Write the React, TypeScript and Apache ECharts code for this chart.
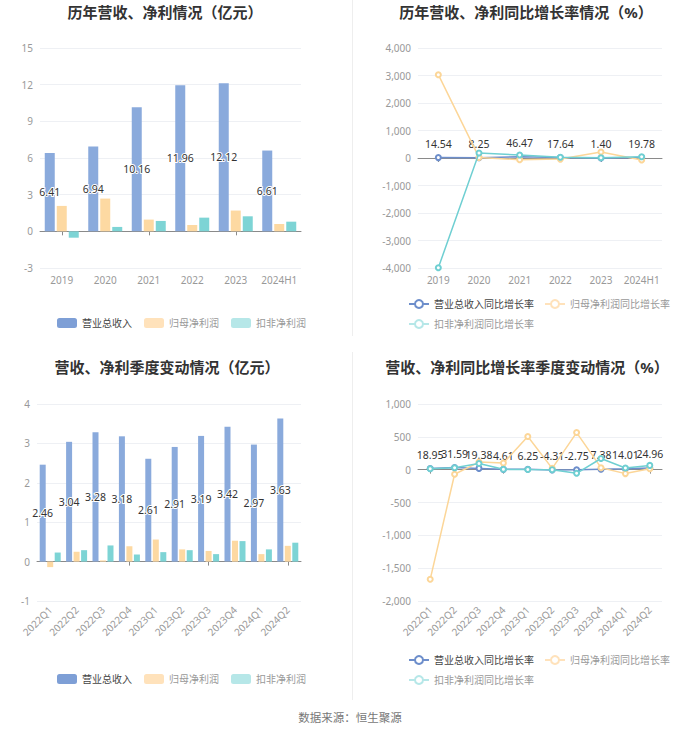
import React, { useEffect, useRef } from "react";
import * as echarts from "echarts";

const years = ["2019", "2020", "2021", "2022", "2023", "2024H1"];
const revenue = [6.41, 6.94, 10.16, 11.96, 12.12, 6.61];
const netProfit = [2.08, 2.68, 0.96, 0.52, 1.7, 0.6];
const deductedProfit = [-0.52, 0.36, 0.85, 1.12, 1.23, 0.79];

const revenueYoY = [14.54, 8.25, 46.47, 17.64, 1.4, 19.78];
const netProfitYoY = [3030, 20, -60, -40, 220, -70];
const deductedYoY = [-3990, 180, 110, 25, 8, 48];

const quarters = ["2022Q1", "2022Q2", "2022Q3", "2022Q4", "2023Q1", "2023Q2", "2023Q3", "2023Q4", "2024Q1", "2024Q2"];
const qRevenue = [2.46, 3.04, 3.28, 3.18, 2.61, 2.91, 3.19, 3.42, 2.97, 3.63];
const qNetProfit = [-0.14, 0.25, 0.03, 0.39, 0.56, 0.31, 0.27, 0.53, 0.19, 0.4];
const qDeducted = [0.23, 0.29, 0.41, 0.18, 0.24, 0.29, 0.19, 0.52, 0.31, 0.48];

const qRevenueYoY = [18.95, 31.59, 19.38, 4.61, 6.25, -4.31, -2.75, 7.38, 14.01, 24.96];
const qNetProfitYoY = [-1670, -70, 115, 100, 505, 20, 565, 30, -60, 15];
const qDeductedYoY = [15, 30, 95, 5, 2, 0, -55, 170, 25, 65];

const barNames = ["营业总收入", "归母净利润", "扣非净利润"];
const lineNames = ["营业总收入同比增长率", "归母净利润同比增长率", "扣非净利润同比增长率"];

const FONT = '"Noto Sans", "Noto Sans CJK SC", sans-serif';
const BLUE = "#8aaadc";
const ORANGE = "#fdd9a2";
const TEAL = "#7dd4d5";
const LBLUE = "#6d8ecb";
const LORANGE = "#fcd698";
const LTEAL = "#6fcfd2";

export default function App() {
  const ref = useRef<HTMLDivElement>(null);
  useEffect(() => {
    if (!ref.current) return;
    const chart = echarts.init(ref.current, null, { renderer: "svg" });

    const grids = [
      { left: 40, right: 399, top: 48, bottom: 466 },
      { left: 418, right: 38, top: 48, bottom: 466 },
      { left: 37, right: 399, top: 404, bottom: 133 },
      { left: 418, right: 38, top: 404, bottom: 133 },
    ];
    const cats = [years, years, quarters, quarters];
    const yRanges = [
      { min: -3, max: 15, interval: 3 },
      { min: -4000, max: 4000, interval: 1000 },
      { min: -1, max: 4, interval: 1 },
      { min: -2000, max: 1000, interval: 500 },
    ];

    const xAxis: any[] = [];
    const yAxis: any[] = [];
    for (let i = 0; i < 4; i++) {
      const rotated = i >= 2;
      xAxis.push({
        type: "category",
        gridIndex: i,
        data: cats[i],
        position: "bottom",
        axisLine: { show: true, onZero: true, lineStyle: { color: "#8a8a8a", width: 1 } },
        axisTick: { show: true, alignWithLabel: true, length: 4, lineStyle: { color: "#8a8a8a" } },
        axisLabel: { show: false },
        splitLine: { show: false },
      });
      xAxis.push({
        type: "category",
        gridIndex: i,
        data: cats[i],
        position: "bottom",
        axisLine: { show: false, onZero: false },
        axisTick: { show: false },
        axisLabel: {
          show: true,
          color: "#999",
          fontSize: 10,
          fontFamily: FONT,
          margin: rotated ? 7 : 7,
          rotate: rotated ? 45 : 0,
          interval: 0,
        },
        splitLine: { show: false },
      });
      yAxis.push({
        type: "value",
        gridIndex: i,
        ...yRanges[i],
        axisLine: { show: false },
        axisTick: { show: false },
        axisLabel: { color: "#999", fontSize: 10, fontFamily: FONT, margin: 7 },
        splitLine: { lineStyle: { color: "#eef0f4", width: 1 } },
      });
    }

    const barLabel = {
      show: true,
      position: "inside",
      color: "#333",
      fontSize: 10.5,
      fontFamily: FONT,
      textBorderColor: "#fff",
      textBorderWidth: 2,
      formatter: (p: any) => Number(p.value).toFixed(2),
    };
    const lineLabel = {
      show: true,
      position: "top",
      color: "#333",
      fontSize: 10.5,
      fontFamily: FONT,
      distance: 5,
      formatter: (p: any) => Number(p.value).toFixed(2),
    };

    const makeBars = (gi: number, data: number[][], bw: number, gap: string) =>
      data.map((d, k) => ({
        name: barNames[k],
        type: "bar",
        xAxisIndex: gi * 2,
        yAxisIndex: gi,
        data: d,
        barWidth: bw,
        barGap: gap,
        itemStyle: { color: [BLUE, ORANGE, TEAL][k] },
        label: k === 0 ? barLabel : { show: false },
      }));
    const makeLines = (gi: number, data: number[][]) =>
      data.map((d, k) => ({
        name: lineNames[k],
        type: "line",
        xAxisIndex: gi * 2,
        yAxisIndex: gi,
        data: d,
        symbol: "emptyCircle",
        symbolSize: 5,
        lineStyle: { color: [LBLUE, LORANGE, LTEAL][k], width: 1.5 },
        itemStyle: { color: [LBLUE, LORANGE, LTEAL][k], borderWidth: 1.2 },
        label: k === 0 ? lineLabel : { show: false },
        z: 2 + k,
      }));

    const barLegendData = [
      { name: barNames[0], itemStyle: { color: "#7e9fd6" }, textStyle: { color: "#444" } },
      { name: barNames[1], itemStyle: { color: "#ffe2bb" }, textStyle: { color: "#999" } },
      { name: barNames[2], itemStyle: { color: "#b6e7e8" }, textStyle: { color: "#999" } },
    ];
    const lineLegendData = [
      { name: lineNames[0], textStyle: { color: "#444" } },
      { name: lineNames[1], itemStyle: { color: "#ffe2bb", borderColor: "#ffe2bb" }, lineStyle: { color: "#ffe2bb" }, textStyle: { color: "#999" } },
      { name: lineNames[2], itemStyle: { color: "#b6e7e8", borderColor: "#b6e7e8" }, lineStyle: { color: "#b6e7e8" }, textStyle: { color: "#999" } },
    ];
    const legendBase = {
      itemWidth: 20,
      itemHeight: 10,
      itemGap: 12,
      textStyle: { fontSize: 10, fontFamily: FONT, color: "#999" },
      selectedMode: false,
    };

    const titleStyle = (text: string, x: number, y: number) => ({
      type: "text",
      x,
      y,
      style: {
        text,
        fill: "#333",
        fontSize: 15,
        fontWeight: "bold",
        fontFamily: FONT,
        align: "center",
        verticalAlign: "middle",
        textAlign: "center",
        textVerticalAlign: "middle",
      },
    });

    chart.setOption({
      animation: false,
      backgroundColor: "#fff",
      textStyle: { fontFamily: FONT },
      grid: grids.map((g) => ({ ...g, containLabel: false })),
      xAxis,
      yAxis,
      legend: [
        { ...legendBase, data: barLegendData, left: 52, top: 313, icon: "roundRect" },
        { ...legendBase, data: lineLegendData, left: 403, top: 294, width: 270, itemGap: 10 },
        { ...legendBase, data: barLegendData, left: 52, top: 669, icon: "roundRect" },
        { ...legendBase, data: lineLegendData, left: 403, top: 650, width: 270, itemGap: 10 },
      ],
      series: [
        ...makeBars(0, [revenue, netProfit, deductedProfit], 10, "20%"),
        ...makeLines(1, [revenueYoY, netProfitYoY, deductedYoY]),
        ...makeBars(2, [qRevenue, qNetProfit, qDeducted], 6, "25%"),
        ...makeLines(3, [qRevenueYoY, qNetProfitYoY, qDeductedYoY]),
      ],
      graphic: [
        titleStyle("历年营收、净利情况（亿元）", 165, 12),
        titleStyle("历年营收、净利同比增长率情况（%）", 526, 12),
        titleStyle("营收、净利季度变动情况（亿元）", 167, 367),
        titleStyle("营收、净利同比增长率季度变动情况（%）", 527, 367),
        { type: "line", shape: { x1: 352.5, y1: 0, x2: 352.5, y2: 336 }, style: { stroke: "#eeeeee", lineWidth: 1 } },
        { type: "line", shape: { x1: 352.5, y1: 352, x2: 352.5, y2: 700 }, style: { stroke: "#eeeeee", lineWidth: 1 } },
        {
          type: "text",
          x: 350,
          y: 717,
          style: {
            text: "数据来源：恒生聚源",
            fill: "#777",
            fontSize: 11.5,
            fontFamily: FONT,
            align: "center",
            verticalAlign: "middle",
            textAlign: "center",
            textVerticalAlign: "middle",
          },
        },
      ],
    });
    return () => chart.dispose();
  }, []);
  return <div ref={ref} style={{ position: "fixed", left: 0, top: 0, width: 700, height: 734, background: "#fff" }} />;
}
